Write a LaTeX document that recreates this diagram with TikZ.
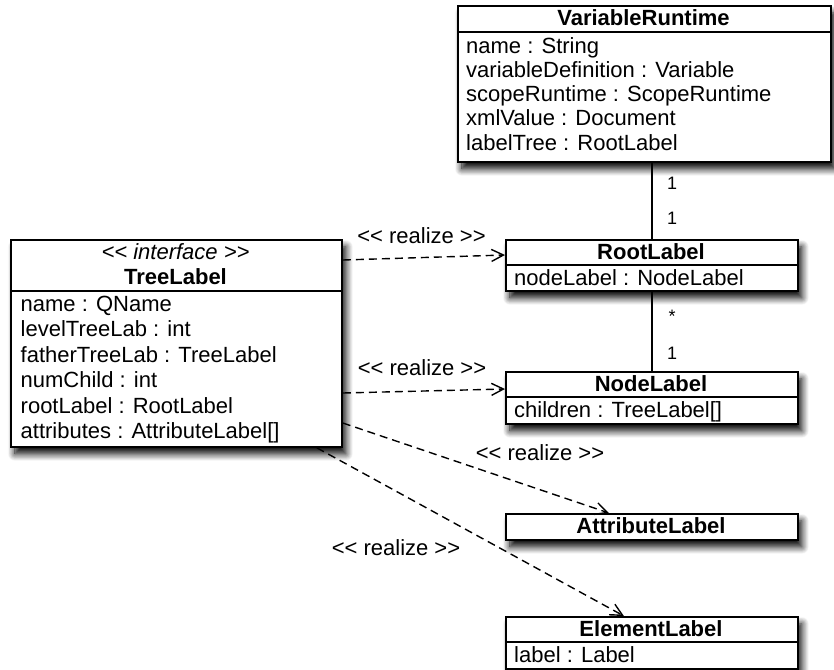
\documentclass[tikz,border=0pt]{standalone}
\usepackage{fontspec}
\setmainfont{Liberation Sans}
\usetikzlibrary{arrows.meta,shadows.blur}
\begin{document}
\begin{tikzpicture}[x=1pt,y=-1pt,
  classbox/.style={draw=black,line width=1.8pt,fill=white,rectangle,inner sep=0pt,anchor=north west,
    blur shadow={shadow xshift=4pt,shadow yshift=-7pt,shadow blur radius=7pt,shadow blur steps=12,shadow opacity=100}},
  classname/.style={font=\fontsize{22}{24}\selectfont\bfseries,inner sep=0pt,anchor=base},
  stereo/.style={font=\fontsize{22}{24}\selectfont\itshape,inner sep=0pt,anchor=base},
  attrs/.style={font=\fontsize{22}{24.3}\selectfont,inner sep=0pt,anchor=base west,align=left},
  compsep/.style={line width=1.8pt},
  realize/.style={line width=1.4pt,dash pattern=on 8pt off 5pt,
    -{Straight Barb[length=12pt,width=12pt,line width=1.4pt]}},
  tag/.style={font=\fontsize{22}{24}\selectfont,inner sep=0pt,anchor=base},
  assoc/.style={line width=1.4pt},
  mult/.style={font=\fontsize{18}{20}\selectfont,inner sep=0pt,anchor=base}
]
\useasboundingbox (0,0) rectangle (834,669);

% VariableRuntime (multi-line text is placed by the baseline of its last line)
\node[classbox,minimum width=373pt,minimum height=156pt] (vr) at (457,5) {};
\draw[compsep] (vr.west |- 0,32) -- (vr.east |- 0,32);
\node[classname] (vrname) at (643.5,26) {VariableRuntime};
\node[attrs] (vrattr) at (466,150.2) {name : String\\variableDefinition : Variable\\scopeRuntime : ScopeRuntime\\xmlValue : Document\\labelTree : RootLabel};

% TreeLabel (interface)
\node[classbox,minimum width=331pt,minimum height=207pt] (tl) at (10,239) {};
\draw[compsep] (tl.west |- 0,291) -- (tl.east |- 0,291);
\node[stereo] (tlstereo) at (175.5,259) {<{}< interface >{}>};
\node[classname] (tlname) at (175.5,284) {TreeLabel};
\node[attrs,font=\fontsize{22}{25.5}\selectfont] (tlattr) at (20.5,438.5) {name : QName\\levelTreeLab : int\\fatherTreeLab : TreeLabel\\numChild : int\\rootLabel : RootLabel\\attributes : AttributeLabel[]};

% RootLabel
\node[classbox,minimum width=292pt,minimum height=51pt] (rl) at (505,239) {};
\draw[compsep] (rl.west |- 0,265) -- (rl.east |- 0,265);
\node[classname] (rlname) at (651,259.5) {RootLabel};
\node[attrs] (rlattr) at (514,285) {nodeLabel : NodeLabel};

% NodeLabel
\node[classbox,minimum width=292pt,minimum height=52pt] (nl) at (505,371) {};
\draw[compsep] (nl.west |- 0,397) -- (nl.east |- 0,397);
\node[classname] (nlname) at (651,391.5) {NodeLabel};
\node[attrs] (nlattr) at (514,417.5) {children : TreeLabel[]};

% AttributeLabel
\node[classbox,minimum width=292pt,minimum height=26pt] (al) at (505,513) {};
\node[classname] (alname) at (651,533.5) {AttributeLabel};

% ElementLabel
\node[classbox,minimum width=292pt,minimum height=52pt] (el) at (505,616) {};
\draw[compsep] (el.west |- 0,642) -- (el.east |- 0,642);
\node[classname] (elname) at (651,636.5) {ElementLabel};
\node[attrs] (elattr) at (514,662.5) {label : Label};

% associations
\draw[assoc] (rl.north |- vr.south) -- (rl.north);
\draw[assoc] (rl.south) -- (nl.north);
\node[mult] (m1) at (672,189.5) {1};
\node[mult] (m2) at (672,224.5) {1};
\node[mult] (m3) at (672,322) {*};
\node[mult] (m4) at (672,359.5) {1};

% realizations
\draw[realize] ([yshift=-21pt]tl.north east) -- ([yshift=-16pt]rl.north west);
\draw[realize] ([yshift=-154pt]tl.north east) -- ([yshift=-18pt]nl.north west);
\draw[realize] ([yshift=-184pt]tl.north east) -- ([xshift=-43pt]al.north);
\draw[realize] ([xshift=-26pt]tl.south east) -- ([xshift=-28pt]el.north);
\node[tag] (r1) at (421.5,243) {<{}< realize >{}>};
\node[tag] (r2) at (422,375.5) {<{}< realize >{}>};
\node[tag] (r3) at (540,460) {<{}< realize >{}>};
\node[tag] (r4) at (396,555) {<{}< realize >{}>};
\end{tikzpicture}
\end{document}
